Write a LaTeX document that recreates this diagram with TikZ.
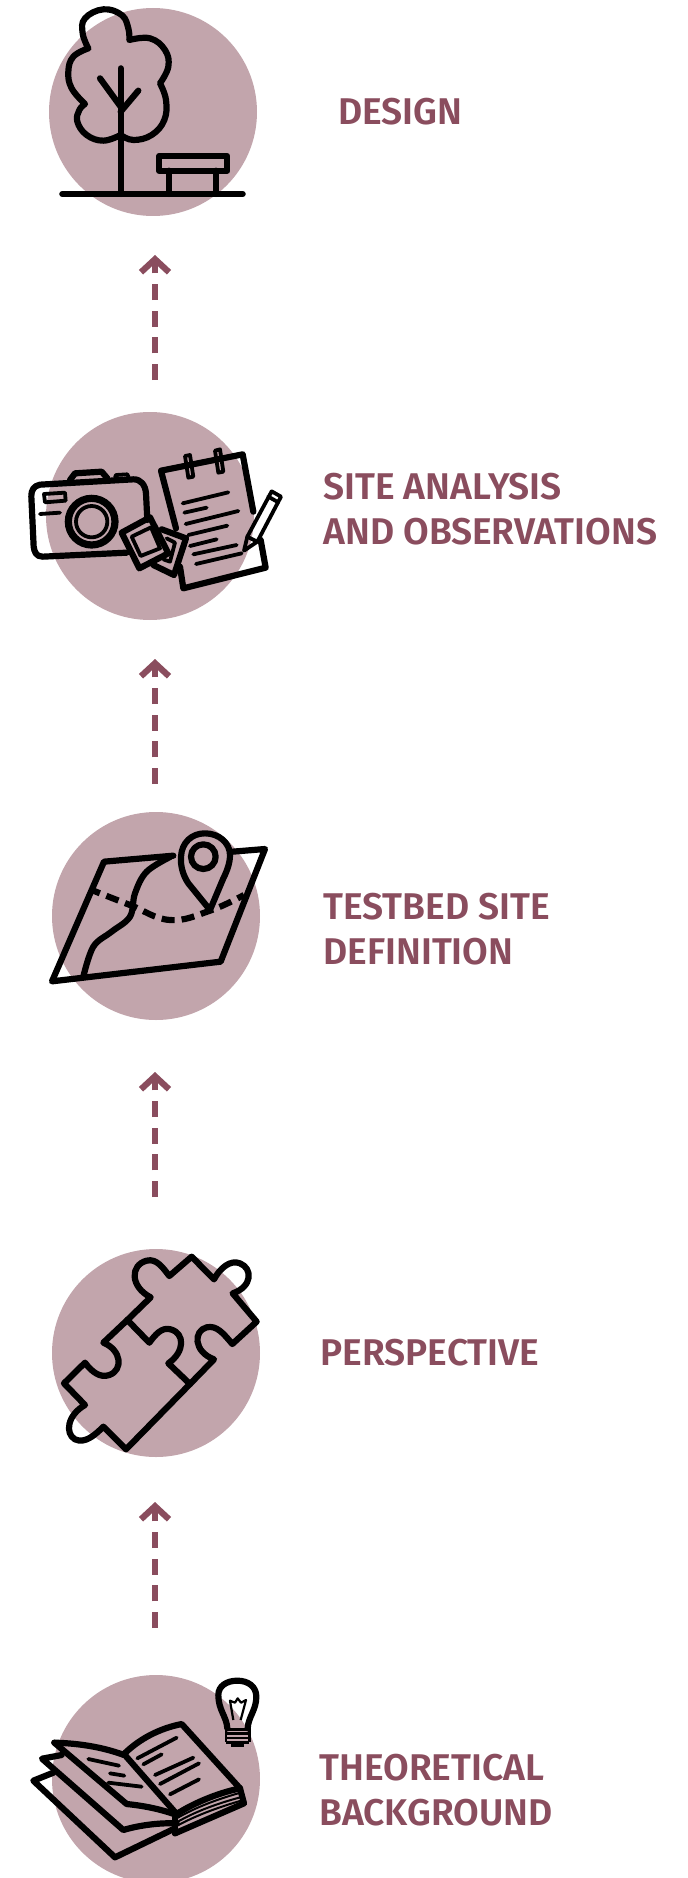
\documentclass[tikz,border=0pt]{standalone}
\usepackage{fontspec}
\usetikzlibrary{arrows.meta}
\newfontfamily\stagefont{Fira Sans SemiBold}
\definecolor{stagewine}{RGB}{138,77,94}
\definecolor{stagerose}{RGB}{194,165,172}
\tikzset{
  stagedot/.style={circle,fill=stagerose,draw=none,minimum size=104pt,inner sep=0pt,outer sep=0pt},
  stagelabel/.style={anchor=west,inner sep=0pt,align=left,text=stagewine,font=\stagefont\fontsize{18.6}{22.5}\selectfont},
  stageflow/.style={draw=stagewine,line width=2.65pt,dash pattern=on 8pt off 5.33pt,
    -{Straight Barb[length=6.5pt,width=14pt,line width=3.1pt]}},
  iconline/.style={line width=3.1pt,line join=round,line cap=round},
  thinline/.style={line width=1.9pt,line join=round,line cap=round}
}
\begin{document}
\begin{tikzpicture}[x=0.5pt,y=-0.5pt]
    \useasboundingbox (0,0) rectangle (687,1878);
    % Discs
    \node[stagedot] (design) at (153,112) {};
    \node[stagedot] (site) at (150,516) {};
    \node[stagedot] (testbed) at (156,916) {};
    \node[stagedot] (perspective) at (156,1353) {};
    \node[stagedot] (theory) at (156,1779) {};
    % Labels
    \node[stagelabel] (designlabel) at (338,112) {DESIGN};
    \node[stagelabel] (sitelabel) at (323,509) {SITE ANALYSIS\\AND OBSERVATIONS};
    \node[stagelabel] (testbedlabel) at (323,929) {TESTBED SITE\\DEFINITION};
    \node[stagelabel] (perspectivelabel) at (320,1353) {PERSPECTIVE};
    \node[stagelabel] (theorylabel) at (319,1790) {THEORETICAL\\BACKGROUND};
    % Connectors
    \draw[stageflow,shorten <=16pt,shorten >=19.5pt] ([xshift=2.5pt]site.north) -- ([xshift=1pt]design.south);
    \draw[stageflow,shorten <=14pt,shorten >=19.5pt] ([xshift=-0.5pt]testbed.north) -- ([xshift=2.5pt]site.south);
    \draw[stageflow,shorten <=26pt,shorten >=26pt] ([xshift=-0.5pt]perspective.north) -- ([xshift=-0.5pt]testbed.south);
    \draw[stageflow,shorten <=23.5pt,shorten >=22.5pt] ([xshift=-0.5pt]theory.north) -- ([xshift=-0.5pt]perspective.south);
    % Tree and bench
    \begin{scope}[shift={(30,0)},scale=1/3]
        \draw[iconline] plot[smooth,tension=.7] coordinates {(175,145) (158,100) (165,55) (220,28) (275,45) (295,85) (298,120)}
            -- plot[smooth,tension=.7] coordinates {(298,120) (360,115) (405,150) (415,200) (390,250)}
            -- plot[smooth,tension=.7] coordinates {(390,250) (408,300) (403,360) (365,405) (310,420) (272,405)}
            -- plot[smooth,tension=.7] coordinates {(272,405) (220,422) (170,405) (142,365) (148,330) (165,312)}
            -- plot[smooth,tension=.7] coordinates {(165,312) (125,265) (115,215) (130,170) (175,145)};
        \draw[iconline] (272,205) -- (272,582);
        \draw[iconline] (210,235) -- (272,320);
        \draw[iconline] (325,272) -- (272,335);
        \draw[iconline] (97,582) -- (638,582);
        \draw[iconline] (388,468) rectangle (592,512);
        \draw[iconline] (417,512) -- (417,582);
        \draw[iconline] (558,512) -- (558,582);
    \end{scope}
    % Camera, photos and notepad
    \begin{scope}[shift={(20,400)},scale=1/3]
        \draw[iconline] (320,458) -- (68,470) .. controls (48,470) and (43,455) .. (41,440) -- (34,290)
            .. controls (34,268) and (42,258) .. (60,254) -- (340,238) .. controls (362,237) and (376,255) .. (378,280) -- (382,360);
        \draw[iconline] (150,240) -- (165,220) -- (245,215) -- (262,235);
        \draw[thinline] (285,232) -- (288,225) -- (322,223) -- (325,230);
        \draw[thinline] (72,282) -- (135,278) -- (137,302) -- (75,307) -- cycle;
        \draw[thinline] (60,342) -- (120,338);
        \draw[line width=3.6pt] (215,365) circle (70);
        \draw[thinline] (215,365) circle (47);
        % photos
        \draw[iconline] (305,398) -- (390,352) -- (445,460) -- (358,505) -- cycle;
        \draw[thinline] (335,410) -- (393,382) -- (420,445) -- (362,468) -- cycle;
        \draw[iconline] (425,388) -- (498,415) -- (462,525) -- (400,495);
        \draw[thinline] (440,415) -- (465,428) -- (450,485) -- (430,478);
        % notepad
        \draw[iconline] (468,385) -- (423,212) -- (668,163) -- (700,335);
        \draw[iconline] (480,500) -- (490,565) -- (737,503) -- (722,420);
        \draw[thinline] (495,168) -- (510,165) -- (520,230) -- (505,233) -- cycle;
        \draw[thinline] (585,152) -- (600,148) -- (610,215) -- (595,218) -- cycle;
        \draw[thinline] (488,310) -- (625,277);
        \draw[thinline] (493,338) -- (560,323);
        \draw[thinline] (497,372) -- (655,333);
        \draw[thinline] (505,405) -- (622,377);
        \draw[thinline] (510,438) -- (590,418);
        \draw[thinline] (520,463) -- (650,435);
        \draw[thinline] (528,492) -- (665,460);
        % pencil
        \draw[thinline] (672,452) -- (682,410) -- (755,274) -- (783,290) -- (712,425) -- cycle;
        \draw[thinline] (682,410) -- (712,425);
        \draw[thinline] (745,290) -- (775,307);
    \end{scope}
    % Map and pin
    \begin{scope}[shift={(40,800)},scale=1/3]
        \draw[iconline] (400,167) -- (192,185) -- (36,544) -- (542,485) -- (675,147) -- (578,155);
        \draw[iconline] plot[smooth,tension=.6] coordinates {(392,170) (320,215) (285,280) (270,350) (215,395) (160,440) (130,530)};
        \draw[iconline,line cap=butt,dash pattern=on 6.5pt off 3.5pt,dash phase=3pt] plot[smooth,tension=.7] coordinates {(160,272) (270,315) (390,360) (510,332) (612,285)};
        \draw[iconline] (510,330) -- (445,250) .. controls (428,225) and (421,195) .. (423,170)
            .. controls (425,128) and (455,100) .. (495,100) .. controls (538,100) and (570,130) .. (570,165)
            .. controls (570,190) and (560,215) .. (550,235) -- cycle;
        \draw[iconline] (490,170) circle (37);
    \end{scope}
    % Puzzle pieces
    \begin{scope}[shift={(40,1240)},scale=1/3]
        \draw[iconline] (262,240) -- (332,172) .. controls (270,140) and (270,75) .. (320,62) .. controls (350,54) and (370,85) .. (388,108)
            -- (455,50) -- (522,118) .. controls (540,85) and (570,58) .. (600,70) .. controls (638,85) and (638,140) .. (578,160)
            -- (650,245) -- (577,312) .. controls (550,280) and (530,255) .. (500,262) .. controls (460,272) and (460,335) .. (522,358)
            -- (450,432);
        \draw[iconline] (262,240) -- (328,308) .. controls (345,285) and (365,260) .. (392,268) .. controls (435,280) and (435,335) .. (385,370)
            -- (450,432) -- (258,628) -- (190,560) .. controls (165,585) and (135,612) .. (105,598) .. controls (74,580) and (82,525) .. (135,495)
            -- (72,430) -- (135,368) .. controls (155,395) and (180,415) .. (208,405) .. controls (250,390) and (245,330) .. (190,308) -- cycle;
    \end{scope}
    % Book and bulb
    \begin{scope}[shift={(20,1660)},scale=1/3]
        \draw[iconline] (312,282) .. controls (360,235) and (420,205) .. (485,192) -- (660,385);
        \draw[iconline] (660,385) .. controls (590,400) and (520,430) .. (470,462) -- (312,282);
        \draw[iconline] (103,248) .. controls (180,250) and (250,262) .. (312,285);
        \draw[iconline] (103,248) -- (320,432) .. controls (380,438) and (430,450) .. (470,465);
        \draw[iconline] (125,285) -- (66,296) -- (310,510) .. controls (360,495) and (420,488) .. (470,490);
        \draw[iconline] (100,338) -- (40,362) -- (285,592) -- (465,505);
        \draw[iconline] (465,520) -- (672,430) -- (660,385);
        \draw[iconline] (465,470) -- (465,520);
        \draw[line width=1pt] (470,475) .. controls (530,440) and (600,415) .. (665,397);
        \draw[line width=1pt] (470,487) .. controls (530,452) and (600,428) .. (668,410);
        \draw[line width=1pt] (470,498) .. controls (530,465) and (600,440) .. (670,420);
        \draw[thinline] (205,297) -- (297,317);
        \draw[thinline] (270,340) -- (313,347);
        \draw[thinline] (265,368) -- (365,380);
        \draw[thinline] (352,295) -- (470,233);
        \draw[thinline] (370,313) -- (425,283);
        \draw[thinline] (405,345) -- (520,293);
        \draw[thinline] (420,372) -- (537,310);
        \draw[thinline] (450,403) -- (537,358);
        % bulb
        \draw[iconline] (622,205) .. controls (620,170) and (595,150) .. (595,105) .. controls (595,78) and (620,62) .. (652,62)
            .. controls (685,62) and (709,80) .. (709,110) .. controls (709,150) and (685,170) .. (683,205);
        \draw[line width=1.1pt,line join=round] (640,180) -- (630,122) -- (645,128) -- (653,115) -- (663,128) -- (678,120) -- (662,180);
        \draw[line width=1.3pt] (618,208) -- (688,208);
        \draw[line width=1.3pt] (618,221) -- (688,221);
        \draw[line width=1.3pt] (618,234) -- (688,234);
        \draw[line width=1.5pt] (618,246) -- (688,246);
        \draw[line width=1.8pt] (634,256) -- (672,256);
        \draw[line width=1.3pt] (618,205) -- (618,246);
        \draw[line width=1.3pt] (688,205) -- (688,246);
    \end{scope}
\end{tikzpicture}
\end{document}
